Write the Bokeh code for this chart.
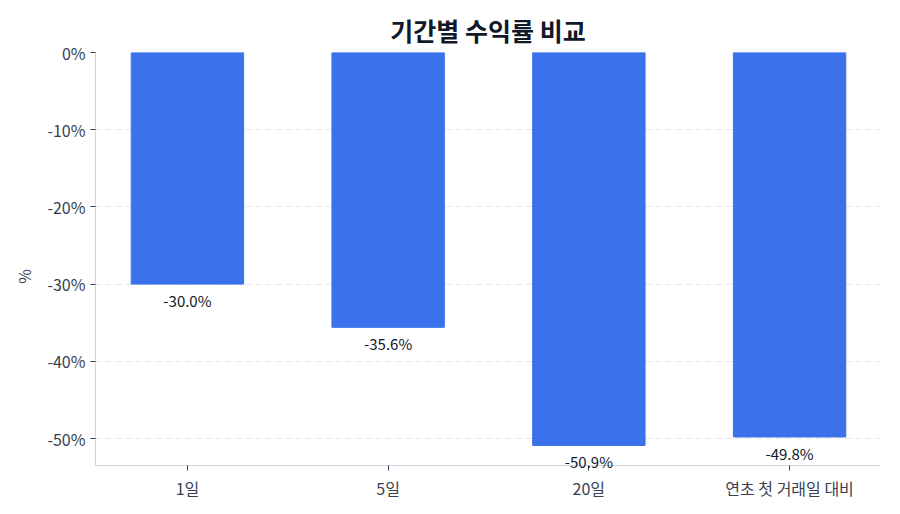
from bokeh.plotting import figure
from bokeh.models import Range1d, FixedTicker, PrintfTickFormatter, ColumnDataSource, Label
from bokeh.embed import file_html
from bokeh.resources import INLINE

categories = ["1일", "5일", "20일", "연초 첫 거래일 대비"]
returns = [-30.0, -35.6, -50.9, -49.8]
y_ticks = [0, -10, -20, -30, -40, -50]

FONT = "Noto Sans CJK KR"
AXIS_Y = -53.5       # where the category axis sits
FRAME_Y_MIN = -58.03  # frame extends below the axis so labels are not clipped
xs = list(range(len(categories)))
labels = [f"{v:.1f}%" for v in returns]
src = ColumnDataSource(dict(x=xs, top=[0] * len(xs), bottom=returns, lab=labels))

p = figure(width=900, height=514, output_backend="svg", toolbar_location=None,
           x_range=Range1d(-0.458, 3.453), y_range=Range1d(FRAME_Y_MIN, 0),
           min_border_left=95, min_border_right=20, min_border_top=52, min_border_bottom=14)

p.vbar(x="x", top="top", bottom="bottom", width=0.56, color="#3b72ec", source=src)
for xv, yv, t in zip(xs, returns, labels):
    p.add_layout(Label(x=xv, y=yv, text=t, text_align="center", text_baseline="top",
                       y_offset=-6, text_font=FONT, text_font_size="15px",
                       text_color="#111827", level="overlay"))

p.title.text = "기간별 수익률 비교"
p.title.align = "center"
p.title.text_font = FONT
p.title.text_font_size = "25px"
p.title.text_font_style = "bold"
p.title.text_color = "#111827"

p.xaxis.ticker = FixedTicker(ticks=xs)
p.xaxis.major_label_overrides = {i: c for i, c in enumerate(categories)}
p.xaxis.fixed_location = AXIS_Y
p.yaxis.ticker = FixedTicker(ticks=y_ticks)
p.yaxis.formatter = PrintfTickFormatter(format="%d%%")
p.yaxis.bounds = (AXIS_Y, 0)
p.yaxis.axis_label = "%"
p.yaxis.axis_label_standoff = 8

for ax in (p.xaxis, p.yaxis):
    ax.major_label_text_font = FONT
    ax.major_label_text_font_size = "16px"
    ax.major_label_text_color = "#374151"
    ax.axis_line_color = "#d1d5db"
    ax.major_tick_line_color = "#374151"
    ax.major_tick_out = 5
    ax.major_tick_in = 0
    ax.minor_tick_line_color = None
    ax.axis_label_text_font = FONT
    ax.axis_label_text_font_size = "16px"
    ax.axis_label_text_font_style = "normal"
    ax.axis_label_text_color = "#374151"

p.xgrid.grid_line_color = None
p.ygrid.grid_line_color = "#e5e7eb"
p.ygrid.grid_line_dash = "6 4"
p.outline_line_color = None
p.background_fill_color = "white"
p.border_fill_color = "white"

open("out.html", "w").write(file_html(p, INLINE))
